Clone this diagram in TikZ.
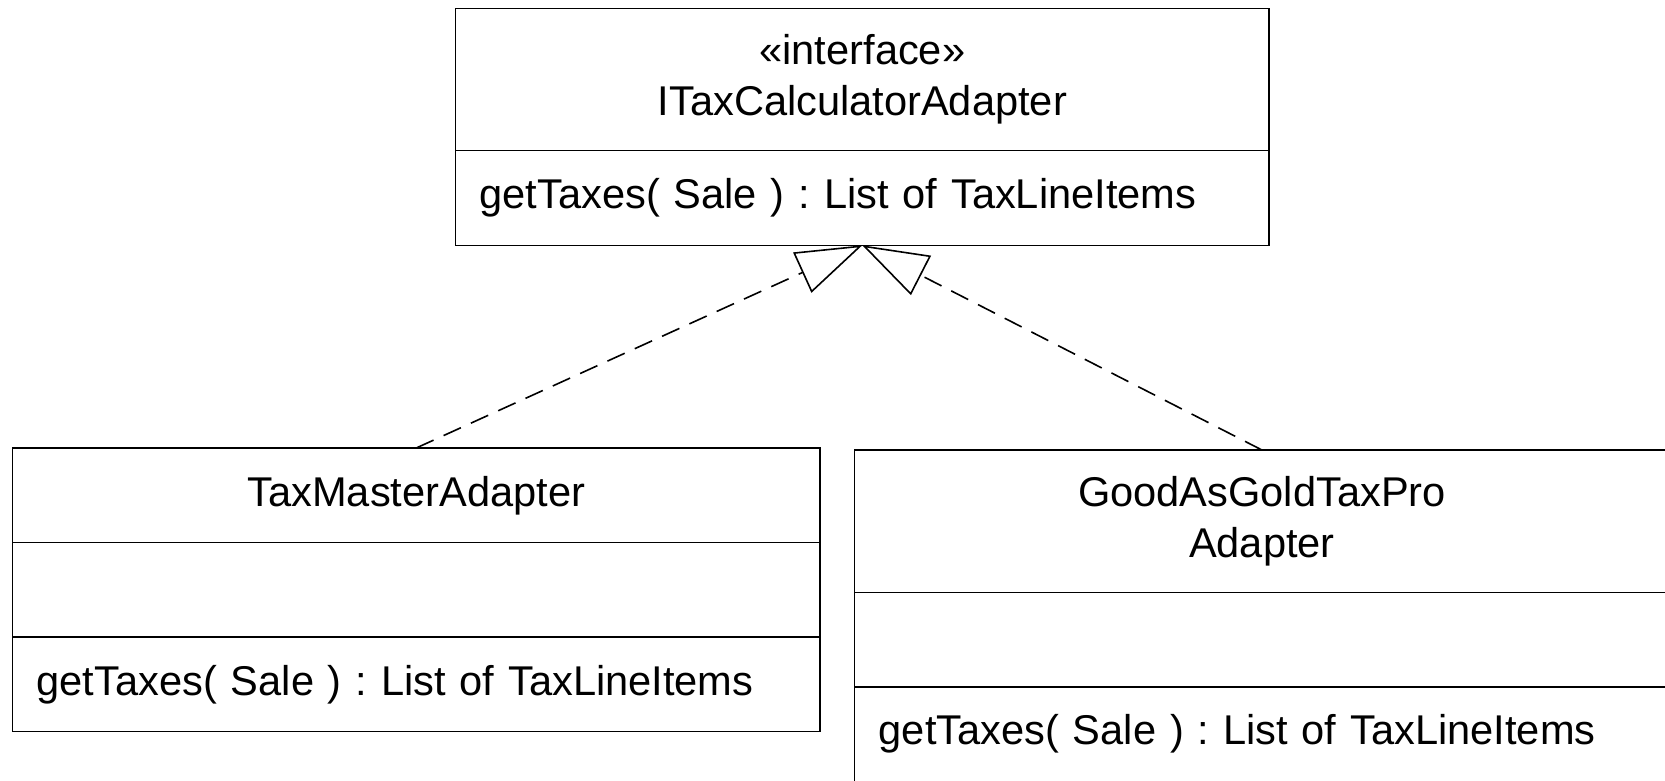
\documentclass[tikz,border=0pt]{standalone}
\usepackage{fontspec}
\setmainfont{Liberation Sans}
\usetikzlibrary{arrows.meta,positioning}
\frenchspacing

\begin{document}
\begin{tikzpicture}[x=.5pt,y=-.5pt,line width=.7pt,
  every node/.style={font=\fontsize{20.8}{25.5}\selectfont,draw,outer sep=0pt,inner sep=0pt},
  head/.style={align=center},
  ops/.style={align=left,inner xsep=12pt,minimum height=47.25pt},
  realize/.style={line width=.8pt,dash pattern=on 9.5pt off 5.5pt,-{Triangle[open,length=33pt,width=22pt]}}]
\useasboundingbox (0,0) rectangle (1665,781);\clip (0,0) rectangle (1665,781);
% interface
\node[head,minimum width=406.7pt,minimum height=71.15pt] (itax) at (862.3,79.65) {«interface»\\ITaxCalculatorAdapter};
\node[ops,text width=382.7pt,below=0pt of itax] (itaxops) {getTaxes( Sale ) : List of TaxLineItems};
% adapters
\node[head,minimum width=403.55pt,minimum height=47.3pt] (tm) at (416.25,495.3) {TaxMasterAdapter};
\node[minimum width=403.55pt,minimum height=47.25pt,below=0pt of tm] (tmattr) {};
\node[ops,text width=379.55pt,below=0pt of tmattr] (tmops) {getTaxes( Sale ) : List of TaxLineItems};
\node[head,minimum width=407.15pt,minimum height=71.15pt] (gag) at (1261.9,521.15) {GoodAsGoldTaxPro\\Adapter};
\node[minimum width=407.15pt,minimum height=47.25pt,below=0pt of gag] (gagattr) {};
\node[ops,text width=383.15pt,below=0pt of gagattr] (gagops) {getTaxes( Sale ) : List of TaxLineItems};
% realization
\draw[realize] (tm.north) -- (itaxops.south);
\draw[realize] (gag.north) -- (itaxops.south);
\end{tikzpicture}
\end{document}
